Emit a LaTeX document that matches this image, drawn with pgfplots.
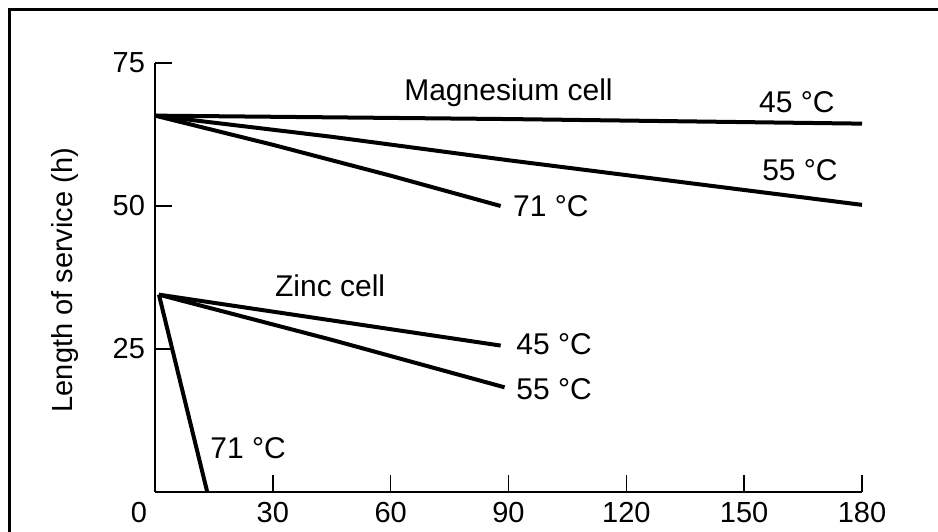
\documentclass[border=0pt]{standalone}
\usepackage{pgfplots}
\pgfplotsset{compat=1.18}
\usepackage{fontspec}
\setmainfont{Liberation Sans}
\begin{document}
\fontsize{14.5}{17}\selectfont
\begin{tikzpicture}
\useasboundingbox (0,0) rectangle (469pt,265.5pt);
\draw[line width=1.5pt] (4.75pt,-20pt) -- (4.75pt,260.5pt) -- (490pt,260.5pt);
\begin{axis}[
  at={(77.5pt,19.5pt)}, anchor=south west,
  scale only axis, width=353.5pt, height=214.5pt,
  xmin=0, xmax=180, ymin=0, ymax=75,
  axis lines=left, axis line style={-, line width=1pt},
  xtick={0,30,60,90,120,150,180},
  xticklabels={\makebox[0pt][r]{0\hspace{4pt}},30,60,90,120,150,180},
  ytick={25,50,75},
  tick align=inside, major tick length=8.5pt,
  tick style={line width=0.8pt, black},
  /pgf/number format/assume math mode=true,
  ylabel={Length of service (h)},
  ylabel style={at={(axis description cs:-0.127,0.494)}, anchor=center},
  cycle list={{black, solid, line width=2pt, no markers}},
  curve/.style={black, solid, line width=2pt, no markers, line join=round},
]
% Magnesium cell
\addplot[curve] coordinates {(0,65.8) (90,65.2) (180,64.4)};
\addplot[curve] coordinates {(0,65.8) (45,62.1) (90,58.0) (135,54.1) (180,50.2)};
\addplot[curve] coordinates {(0,65.8) (30,60.7) (60,55.3) (88,50.0)};
% Zinc cell
\addplot[curve] coordinates {(1,34.5) (45,30.0) (88,25.6)};
\addplot[curve] coordinates {(1,34.5) (45,26.6) (89,18.3)};
\addplot[curve] coordinates {(1,34.5) (13.3,0)};
\begin{scope}[every node/.style={font=\fontsize{15}{18}\selectfont, inner sep=0pt}]
\node[anchor=base] at (axis cs:90,68.5) {Magnesium cell};
\node[anchor=base] at (axis cs:163.4,66.4) {45 °C};
\node[anchor=base] at (axis cs:164.2,54.4) {55 °C};
\node[anchor=base west] at (axis cs:91.1,48.1) {71 °C};
\node[anchor=base] at (axis cs:44.6,34.1) {Zinc cell};
\node[anchor=base west] at (axis cs:91.9,24.1) {45 °C};
\node[anchor=base west] at (axis cs:91.9,16.1) {55 °C};
\node[anchor=base west] at (axis cs:14.0,5.9) {71 °C};
\end{scope}
\end{axis}
\end{tikzpicture}
\end{document}
